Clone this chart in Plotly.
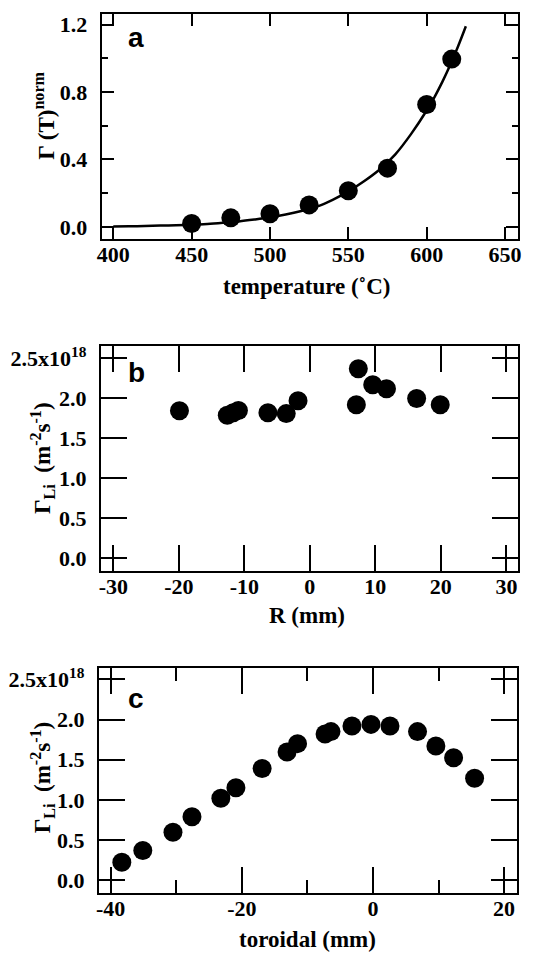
import plotly.graph_objects as go

# ---- panel a: normalised Li flux vs temperature ----
temp_c = [450, 475, 500, 525, 550, 575, 600, 616]
flux_norm = [0.02, 0.053, 0.077, 0.13, 0.214, 0.348, 0.726, 0.995]

# fitted curve, sampled
fit_t = [400, 410, 420, 430, 440, 450, 460, 470, 480, 490, 500, 510, 520, 530,
         540, 550, 560, 570, 580, 590, 600, 605, 610, 615, 620, 625]
fit_y = [0.002, 0.003, 0.005, 0.007, 0.009, 0.012, 0.017, 0.024, 0.032, 0.043,
         0.056, 0.073, 0.094, 0.12, 0.16, 0.21, 0.27, 0.34, 0.43, 0.55,
         0.69, 0.77, 0.86, 0.96, 1.07, 1.19]

temp_ticks = [400, 450, 500, 550, 600, 650]
norm_ticks = [0.0, 0.4, 0.8, 1.2]
norm_ticktext = ["0.0", "0.4", "0.8", "1.2"]

# ---- panel b: Li flux vs radial position ----
r_mm = [-19.9, -12.6, -11.7, -10.9, -6.4, -3.6, -1.8, 7.1, 7.4, 9.6, 11.7, 16.3, 19.9]
flux_r = [1.845, 1.79, 1.82, 1.85, 1.82, 1.81, 1.97, 1.92, 2.37, 2.17, 2.12, 2.0, 1.92]

r_ticks = [-30, -20, -10, 0, 10, 20, 30]
r_ticktext = ["-30", "-20", "-10", "0", "10", "20", "30"]

# ---- panel c: Li flux vs toroidal position ----
tor_mm = [-38.3, -35.1, -30.5, -27.6, -23.2, -20.9, -16.9, -13.1, -11.5, -7.3,
          -6.4, -3.2, -0.3, 2.6, 6.8, 9.6, 12.3, 15.5]
flux_t = [0.223, 0.368, 0.595, 0.79, 1.02, 1.15, 1.39, 1.595, 1.70, 1.82,
          1.85, 1.92, 1.94, 1.92, 1.85, 1.67, 1.525, 1.27]

tor_ticks = [-40, -20, 0, 20]
tor_ticktext = ["-40", "-20", "0", "20"]

flux_ticks = [0.0, 0.5, 1.0, 1.5, 2.0, 2.5]
flux_ticktext = ["0.0", "0.5", "1.0", "1.5", "2.0", "2.5x10<sup>18</sup>"]

W, H = 533, 953
SERIF = "Liberation Serif"
SANS = "Liberation Sans"


def px_x(a, b):
    return [a / W, b / W]


def px_y(top, bottom):
    return [1 - bottom / H, 1 - top / H]


fig = go.Figure()

marker = dict(size=19, color="black")

fig.add_trace(go.Scatter(x=fit_t, y=fit_y, mode="lines",
                         line=dict(color="black", width=2.5, shape="spline"),
                         xaxis="x", yaxis="y", showlegend=False))
fig.add_trace(go.Scatter(x=temp_c, y=flux_norm, mode="markers", marker=marker,
                         xaxis="x", yaxis="y", showlegend=False))
fig.add_trace(go.Scatter(x=r_mm, y=flux_r, mode="markers", marker=marker,
                         xaxis="x2", yaxis="y2", showlegend=False))
fig.add_trace(go.Scatter(x=tor_mm, y=flux_t, mode="markers", marker=marker,
                         xaxis="x3", yaxis="y3", showlegend=False))

tickfont = dict(family=SERIF, size=22, color="black", weight="bold")
titlefont = dict(family=SERIF, size=23, color="black", weight="bold")

common = dict(showline=True, linecolor="black", linewidth=2, mirror="allticks",
              ticks="inside", tickcolor="black", tickwidth=1.5,
              showgrid=False, zeroline=False, tickfont=tickfont)
xcommon = dict(common, ticklabelstandoff=-5)
ycommon = dict(common, ticklabelstandoff=8)

fig.update_layout(
    width=W, height=H,
    margin=dict(l=0, r=0, t=0, b=0),
    paper_bgcolor="white", plot_bgcolor="white",
    # panel a
    xaxis=dict(xcommon, domain=px_x(98, 521), range=[392.5, 658.4],
               tickvals=temp_ticks, ticklen=12, anchor="y"),
    yaxis=dict(ycommon, domain=px_y(10, 236), range=[-0.071, 1.263],
               tickvals=norm_ticks, ticktext=norm_ticktext, ticklen=12,
               minor=dict(tickvals=[0.2, 0.6, 1.0], ticklen=6, ticks="inside",
                          tickcolor="black", tickwidth=1.5),
               anchor="x"),
    # panel b
    xaxis2=dict(xcommon, domain=px_x(97.3, 521), range=[-31.9, 31.8],
                tickvals=r_ticks, ticktext=r_ticktext, ticklen=26, anchor="y2"),
    yaxis2=dict(ycommon, domain=px_y(344, 570), range=[-0.158, 2.653],
                tickvals=flux_ticks, ticktext=flux_ticktext, ticklen=26,
                anchor="x2"),
    # panel c
    xaxis3=dict(xcommon, domain=px_x(95.3, 520), range=[-41.8, 22.0],
                tickvals=tor_ticks, ticktext=tor_ticktext, ticklen=26,
                minor=dict(tickvals=[-30, -10, 10], ticklen=13, ticks="inside",
                           tickcolor="black", tickwidth=1.5),
                anchor="y3"),
    yaxis3=dict(ycommon, domain=px_y(667.3, 893.3), range=[-0.156, 2.645],
                tickvals=flux_ticks, ticktext=flux_ticktext, ticklen=26,
                anchor="x3"),
)

# axis titles, placed in page pixels
flux_title = "Γ<sub>Li</sub>  (m<sup>-2</sup>s<sup>-1</sup>)"
titles = [
    ("temperature (˚C)", 307, 284, 0),
    ("R (mm)", 307, 615, 0),
    ("toroidal (mm)", 307, 940, 0),
    ("Γ (T)<sup>norm</sup>", 40, 112, -90),
    (flux_title, 38, 456, -90),
    (flux_title, 38, 777, -90),
]
for text, xp, yp, ang in titles:
    fig.add_annotation(text=text, xref="paper", yref="paper",
                       x=xp / W, y=1 - yp / H, xanchor="center", yanchor="middle",
                       textangle=ang, showarrow=False, font=titlefont)

# panel letters
letter_font = dict(family=SANS, size=28, color="black", weight="bold")
for letter, xp, yp in [("a", 123, 16), ("b", 123, 353), ("c", 123, 681)]:
    fig.add_annotation(text=letter, xref="paper", yref="paper",
                       x=xp / W, y=1 - yp / H, xanchor="left", yanchor="top",
                       showarrow=False, font=letter_font)

fig.write_html("out.html")
